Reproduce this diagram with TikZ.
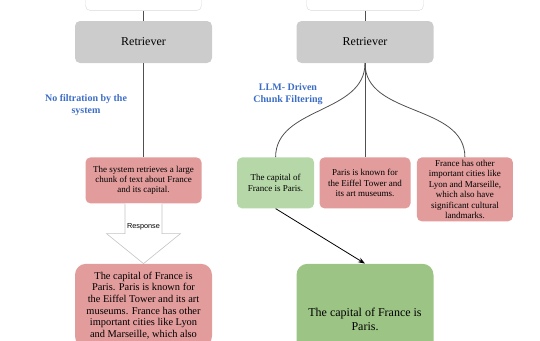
\documentclass[tikz,border=0pt]{standalone}
\usepackage{fontspec}
\setmainfont{Liberation Serif}
\newfontfamily\labelfont{Liberation Sans}
\usepackage{xcolor}
\definecolor{retgrey}{HTML}{CCCCCC}
\definecolor{qline}{HTML}{DADADA}
\definecolor{chunkred}{HTML}{E29C9C}
\definecolor{chunkgreen}{HTML}{B6D7A8}
\definecolor{fingreen}{HTML}{9CC485}
\definecolor{tagblue}{HTML}{3C6DC5}
\definecolor{linkgrey}{HTML}{505050}
\definecolor{arrowgrey}{HTML}{C4C4C4}
\usepackage{tikz}
\usetikzlibrary{positioning,arrows.meta,calc}
\tikzset{
  qbox/.style={draw=qline,fill=white,rounded corners=5pt,minimum width=#1,minimum height=30pt},
  qbox/.default=116pt,
  retbox/.style={fill=retgrey,rounded corners=5pt,minimum width=137pt,minimum height=42pt,
                 font=\fontsize{12}{14}\selectfont},
  chunk/.style={rounded corners=5pt,align=center,inner sep=2pt,minimum width=#1,minimum height=51pt,
                font=\fontsize{9}{10.4}\selectfont},
  chunk/.default=91pt,
  badchunk/.style={chunk=#1,fill=chunkred},
  badchunk/.default=91pt,
  goodchunk/.style={chunk=#1,fill=chunkgreen},
  goodchunk/.default=77pt,
  answer/.style={rounded corners=11pt,align=center,minimum width=137pt},
  tag/.style={text=tagblue,font=\fontsize{10}{12}\selectfont\bfseries,align=center},
  link/.style={draw=linkgrey,line width=0.8pt},
  flow/.style={-{Stealth[length=7pt,width=5pt]},draw=black,line width=0.8pt},
  hollow/.style={draw=arrowgrey,fill=white,line width=0.6pt},
}

\begin{document}
\begin{tikzpicture}[x=1pt,y=-1pt]
  \useasboundingbox (0,0) rectangle (540,340);
  \clip (0,0) rectangle (540,340);
  % left: no filtering
  \node[retbox] (ret1) at (143.5,42) {Retriever};
  \node[qbox, above=10pt of ret1] (q1) {};
  \node[badchunk=116pt, minimum height=46pt, below=94pt of ret1] (sys) {The system retrieves a large\\ chunk of text about France\\ and its capital.};
  \node[answer, fill=chunkred, inner ysep=8pt, font=\fontsize{10.4}{11.7}\selectfont, below=60pt of sys] (resp)
    {The capital of France is\\ Paris. Paris is known for\\ the Eiffel Tower and its art\\ museums. France has other\\ important cities like Lyon\\ and Marseille, which also};
  \node[tag] (tagleft) at (86,105) {No filtration by the\\ system};
  \draw[link] (q1) -- (ret1);
  \draw[link] (ret1) -- (sys);
  \draw[hollow] ($(sys.south)+(-18.5,0)$) -- ($(sys.south)+(-18.5,30)$) -- ($(sys.south)+(-37,30)$) -- (resp.north)
    -- ($(sys.south)+(37,30)$) -- ($(sys.south)+(18.5,30)$) -- ($(sys.south)+(18.5,0)$);
  \node[font=\labelfont\fontsize{7.3}{8}\selectfont] (resplabel) at ($(sys.south)+(0,23)$) {Response};
  % right: LLM-driven filtering
  \node[retbox] (ret2) at (365,42) {Retriever};
  \node[qbox=117pt, above=10pt of ret2] (q2) {};
  \node[badchunk, below=94pt of ret2] (c2) {Paris is known for\\ the Eiffel Tower and\\ its art museums.};
  \node[goodchunk, left=5pt of c2.north west, anchor=north east] (c1) {The capital of\\ France is Paris.};
  \node[badchunk=96pt, minimum height=64pt, right=6pt of c2.north east, anchor=north west] (c3)
    {France has other\\ important cities like\\ Lyon and Marseille,\\ which also have\\ significant cultural\\ landmarks.};
  \node[answer, fill=fingreen, minimum height=112pt, font=\fontsize{12}{14}\selectfont, below=55pt of c2] (fin)
    {The capital of France is\\ Paris.};
  \node[tag] (tagright) at (288,94) {LLM- Driven\\ Chunk Filtering};
  \draw[link] (q2) -- (ret2);
  \draw[link] (ret2.south) to[out=-90,in=90] (c1.north);
  \draw[link] (ret2) -- (c2);
  \draw[link] (ret2.south) to[out=-90,in=90] (c3.north);
  \draw[flow] (c1.south) -- (fin.north);
\end{tikzpicture}
\end{document}
